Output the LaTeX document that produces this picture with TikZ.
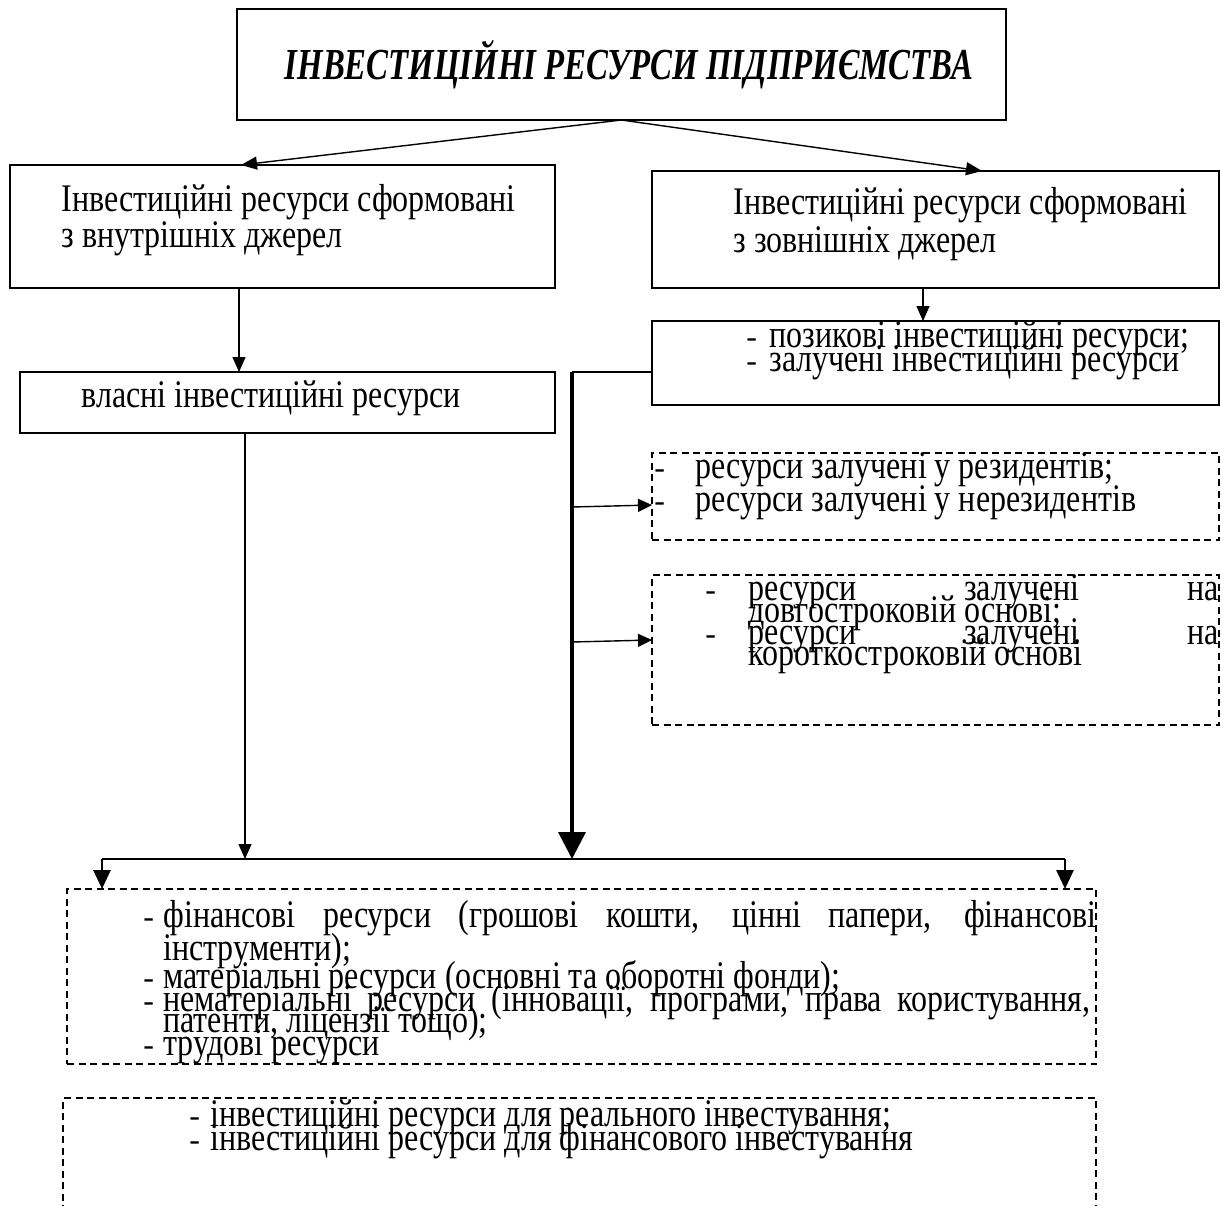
\documentclass[tikz,border=0pt]{standalone}
\usepackage{graphicx}
\usepackage{fontspec}
\setmainfont{Liberation Serif}
\usetikzlibrary{arrows.meta,calc}
\newcommand{\vs}[1]{\scalebox{1}[1.22]{#1}}
\begin{document}
\begin{tikzpicture}[x=0.5pt,y=-0.5pt,
  box/.style={draw, line width=1.2pt, anchor=north west, inner sep=0pt, outer sep=0pt},
  dbox/.style={draw, line width=0.65pt, dash pattern=on 3.5pt off 2.25pt, anchor=north west, inner sep=0pt, outer sep=0pt},
  txt/.style={anchor=mid west, inner sep=0pt, font=\fontsize{16}{19}\selectfont},
  arr/.style={line width=0.7pt, -{Triangle[length=7.5pt,width=6.5pt]}},
  darr/.style={line width=0.7pt, -{Triangle[length=8pt,width=6.5pt]}},
  sarr/.style={line width=0.7pt, -{Triangle[length=7pt,width=6.5pt]}},
  tarr/.style={line width=1.8pt, -{Triangle[length=13.5pt,width=13.5pt]}},
  carr/.style={line width=1.4pt, -{Triangle[length=9.5pt,width=8.5pt]}},
  conn/.style={line width=0.7pt},
  hconn/.style={line width=0.9pt}
]
\path[use as bounding box] (0,0) rectangle (1221,1205);

% boxes
\node[box, line width=1.4pt, minimum width=384.5pt, minimum height=55.5pt] (title) at (237,9) {};
\node[font=\fontsize{16.4}{19}\selectfont\bfseries\itshape, inner sep=0pt] (tt) at (629,65) {\scalebox{1}[1.35]{ІНВЕСТИЦІЙНІ РЕСУРСИ ПІДПРИЄМСТВА}};

\node[box, minimum width=272.5pt, minimum height=61.5pt] (l1) at (10,165) {};
\node[txt] (l1a) at (61,207) {\vs{Інвестиційні ресурси сформовані}};
\node[txt] (l1b) at (61,243) {\vs{з внутрішніх джерел}};

\node[box, minimum width=283.5pt, minimum height=58.5pt] (r1) at (652,171) {};
\node[txt] (r1a) at (733,210) {\vs{Інвестиційні ресурси сформовані}};
\node[txt] (r1b) at (733,248) {\vs{з зовнішніх джерел}};

\node[box, minimum width=267.5pt, minimum height=30.5pt] (vl) at (20,372) {};
\node[txt] (vla) at (81,403) {\vs{власні інвестиційні ресурси}};

\node[box, minimum width=283.5pt, minimum height=42pt] (pz) at (652,321) {};
\node[txt] (pzd1) at (746,343) {-};
\node[txt] (pza) at (769,343) {\vs{позикові інвестиційні ресурси;}};
\node[txt] (pzd2) at (746,367) {-};
\node[txt] (pzb) at (769,367) {\vs{залучені інвестиційні ресурси}};

\node[dbox, minimum width=283.5pt, minimum height=43.5pt] (d1) at (652,453) {};
\node[txt] (d1d1) at (654,474) {-};
\node[txt] (d1a) at (695,474) {\vs{ресурси залучені у резидентів;}};
\node[txt] (d1d2) at (654,507) {-};
\node[txt] (d1b) at (695,507) {\vs{ресурси залучені у нерезидентів}};

\node[dbox, minimum width=283.5pt, minimum height=75pt] (d2) at (652,575) {};
\node[txt] (d2d1) at (705,596) {-};
\node[txt] (d2a) at (748,596) {\vs{\makebox[235pt][s]{ресурси залучені на}}};
\node[txt] (d2b) at (748,618) {\vs{довгостроковій основі;}};
\node[txt] (d2d2) at (705,640) {-};
\node[txt] (d2c) at (748,640) {\vs{\makebox[235pt][s]{ресурси залучені на}}};
\node[txt] (d2e) at (748,661) {\vs{короткостроковій основі}};

\node[dbox, minimum width=514.5pt, minimum height=87.5pt] (b3) at (67,889) {};
\node[txt] (b3d1) at (143,923) {-};
\node[txt] (b3a) at (163,923) {\vs{\makebox[466.5pt][s]{фінансові ресурси (грошові кошти, цінні папери, фінансові}}};
\node[txt] (b3b) at (163,956) {\vs{інструменти);}};
\node[txt] (b3d2) at (143,984) {-};
\node[txt] (b3c) at (163,984) {\vs{матеріальні ресурси (основні та оборотні фонди);}};
\node[txt] (b3d3) at (143,1007) {-};
\node[txt] (b3e) at (163,1007) {\vs{\makebox[463.5pt][s]{нематеріальні ресурси (інновації, програми, права користування,}}};
\node[txt] (b3f) at (163,1028) {\vs{патенти, ліцензії тощо);}};
\node[txt] (b3d4) at (143,1051) {-};
\node[txt] (b3g) at (163,1051) {\vs{трудові ресурси}};

\begin{scope}
\clip (0,0) rectangle (1221,1205);
\node[dbox, minimum width=516.5pt, minimum height=75pt] (b4) at (63,1098) {};
\end{scope}
\node[txt] (b4d1) at (189,1122) {-};
\node[txt] (b4a) at (210,1122) {\vs{інвестиційні ресурси для реального інвестування;}};
\node[txt] (b4d2) at (189,1146) {-};
\node[txt] (b4b) at (210,1146) {\vs{інвестиційні ресурси для фінансового інвестування}};

% coordinates
\coordinate (jn) at (572,372);
\coordinate (hlL) at (102,859);
\coordinate (hlR) at (1065,859);
\coordinate (vlb) at ([xshift=112.5pt]vl.south west);
\coordinate (s1) at (572,507);
\coordinate (s2) at (572,642);

% connectors
\draw[darr] (title.south) -- ([xshift=115.5pt]l1.north west);
\draw[darr] (title.south) -- ([xshift=165pt]r1.north west);
\draw[arr] ([xshift=114.5pt]l1.south west) -- ([xshift=109.5pt]vl.north west);
\draw[arr] ([xshift=135.5pt]r1.south west) -- ([xshift=135.5pt]pz.north west);
\draw[conn] ([yshift=16.5pt]pz.south west) -- (jn);
\draw[tarr] (jn) -- (jn |- hlL);
\draw[sarr] (s1) -- ([yshift=-26pt]d1.north west);
\draw[sarr] (s2) -- ([yshift=-32.5pt]d2.north west);
\draw[arr] (vlb) -- (vlb |- hlL);
\draw[hconn] (hlL) -- (hlR);
\draw[carr] (hlL) -- (hlL |- b3.north);
\draw[carr] (hlR) -- (hlR |- b3.north);
\end{tikzpicture}
\end{document}
